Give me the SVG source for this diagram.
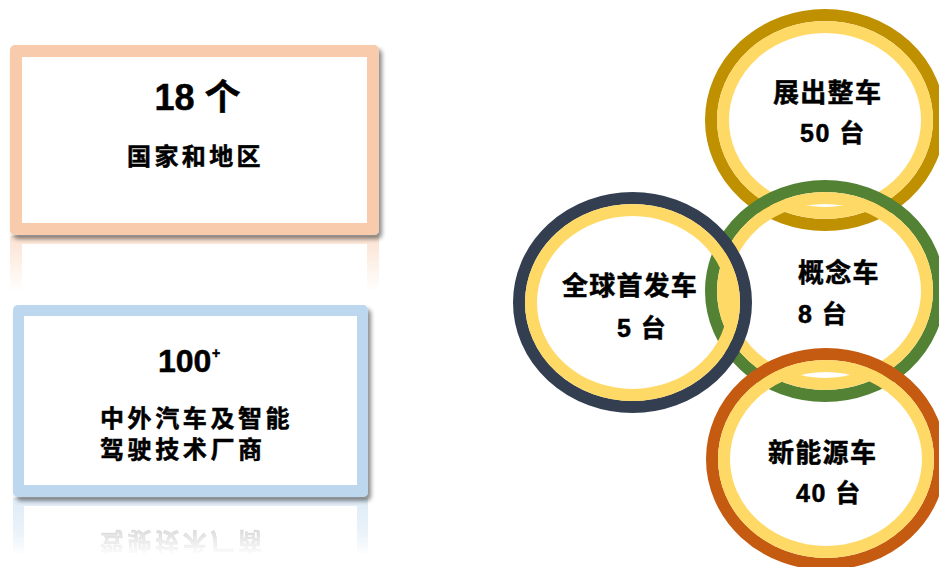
<svg xmlns="http://www.w3.org/2000/svg" width="939" height="567" viewBox="0 0 939 567">
<style>
.t{font-family:"Liberation Sans","Noto Sans CJK SC",sans-serif;font-weight:700;fill:#000;stroke:#000;stroke-width:0.5}
.ring{fill:none}
.in{fill:none;stroke:#FFD966;stroke-width:12}
</style>
<defs>
<filter id="sh" x="-5%" y="-5%" width="115%" height="120%">
<feDropShadow dx="3" dy="4" stdDeviation="2" flood-color="#000" flood-opacity="0.45"/>
</filter>
<filter id="bl"><feGaussianBlur stdDeviation="0.6"/></filter>
<linearGradient id="g1" x1="0" y1="236" x2="0" y2="292" gradientUnits="userSpaceOnUse">
<stop offset="0" stop-color="#fff" stop-opacity="0.55"/>
<stop offset="1" stop-color="#fff" stop-opacity="0"/>
</linearGradient>
<linearGradient id="g2" x1="0" y1="498" x2="0" y2="556" gradientUnits="userSpaceOnUse">
<stop offset="0" stop-color="#fff" stop-opacity="0.5"/>
<stop offset="0.6" stop-color="#fff" stop-opacity="0.3"/>
<stop offset="1" stop-color="#fff" stop-opacity="0"/>
</linearGradient>
<mask id="m1" maskUnits="userSpaceOnUse" x="0" y="0" width="939" height="567"><rect x="0" y="236" width="400" height="60" fill="url(#g1)"/></mask>
<mask id="m2" maskUnits="userSpaceOnUse" x="0" y="0" width="939" height="567"><rect x="0" y="498" width="400" height="60" fill="url(#g2)"/></mask>
</defs>

<g id="box-countries">
<g mask="url(#m1)">
<g transform="matrix(1,0,0,-1,0,467)">
<rect x="10" y="45" width="369" height="190" rx="5" fill="#F8CBAD"/>
<rect x="22" y="57" width="345" height="166" fill="#fff"/>
</g>
</g>
<rect x="10" y="45" width="369" height="190" rx="5" fill="#F8CBAD" filter="url(#sh)"/>
<rect x="22" y="57" width="345" height="166" fill="#fff"/>
<text class="t" x="197.5" y="110" font-size="36" text-anchor="middle">18 个</text>
<text class="t" x="127" y="165" font-size="24" letter-spacing="3.4">国家和地区</text>
</g>

<g id="box-makers">
<g mask="url(#m2)">
<g transform="matrix(1,0,0,-1,0,991)">
<rect x="13" y="305" width="355" height="192" rx="5" fill="#BDD7EE"/>
<rect x="24" y="316" width="333" height="169" fill="#fff"/>
<text class="t" x="100" y="458" font-size="24" letter-spacing="3.6" fill-opacity="0.4" stroke-opacity="0.4" filter="url(#bl)">驾驶技术厂商</text>
</g>
</g>
<rect x="13" y="305" width="355" height="192" rx="5" fill="#BDD7EE" filter="url(#sh)"/>
<rect x="24" y="316" width="333" height="169" fill="#fff"/>
<text class="t" x="158" y="372" font-size="32">100</text>
<text class="t" x="212" y="358" font-size="14">+</text>
<text class="t" x="100" y="427" font-size="24" letter-spacing="3.6">中外汽车及智能</text>
<text class="t" x="100" y="458" font-size="24" letter-spacing="3.6">驾驶技术厂商</text>
</g>

<g id="circle-vehicles">
<ellipse class="ring" cx="825" cy="120" rx="114" ry="105" stroke="#BF9000" stroke-width="12"/>
<ellipse class="in" cx="825" cy="120" rx="102" ry="93"/>
<text class="t" x="773" y="102" font-size="26" letter-spacing="1.3">展出整车</text>
<text class="t" x="800" y="142" font-size="25" letter-spacing="1.5">50 台</text>
</g>

<g id="circle-concept">
<ellipse class="ring" cx="825" cy="291" rx="114" ry="105" stroke="#548235" stroke-width="12"/>
<ellipse class="in" cx="825" cy="291" rx="102" ry="93"/>
<text class="t" x="798" y="282" font-size="26" letter-spacing="1.3">概念车</text>
<text class="t" x="798" y="323" font-size="25" letter-spacing="1.5">8 台</text>
</g>

<g id="circle-premiere">
<ellipse class="ring" cx="632.5" cy="302.5" rx="113.5" ry="104.5" stroke="#333F50" stroke-width="12"/>
<ellipse class="in" cx="632.5" cy="302.5" rx="101.5" ry="92.5"/>
<text class="t" x="562" y="295" font-size="26" letter-spacing="1.2">全球首发车</text>
<text class="t" x="617" y="337" font-size="25" letter-spacing="1.5">5 台</text>
</g>

<g id="circle-nev">
<ellipse class="ring" cx="826" cy="459" rx="114" ry="105" stroke="#C55A11" stroke-width="12"/>
<ellipse class="in" cx="826" cy="459" rx="102" ry="93"/>
<text class="t" x="768" y="462" font-size="26" letter-spacing="1.3">新能源车</text>
<text class="t" x="796" y="502" font-size="25" letter-spacing="1.5">40 台</text>
</g>

<g id="connectors"/>
</svg>
